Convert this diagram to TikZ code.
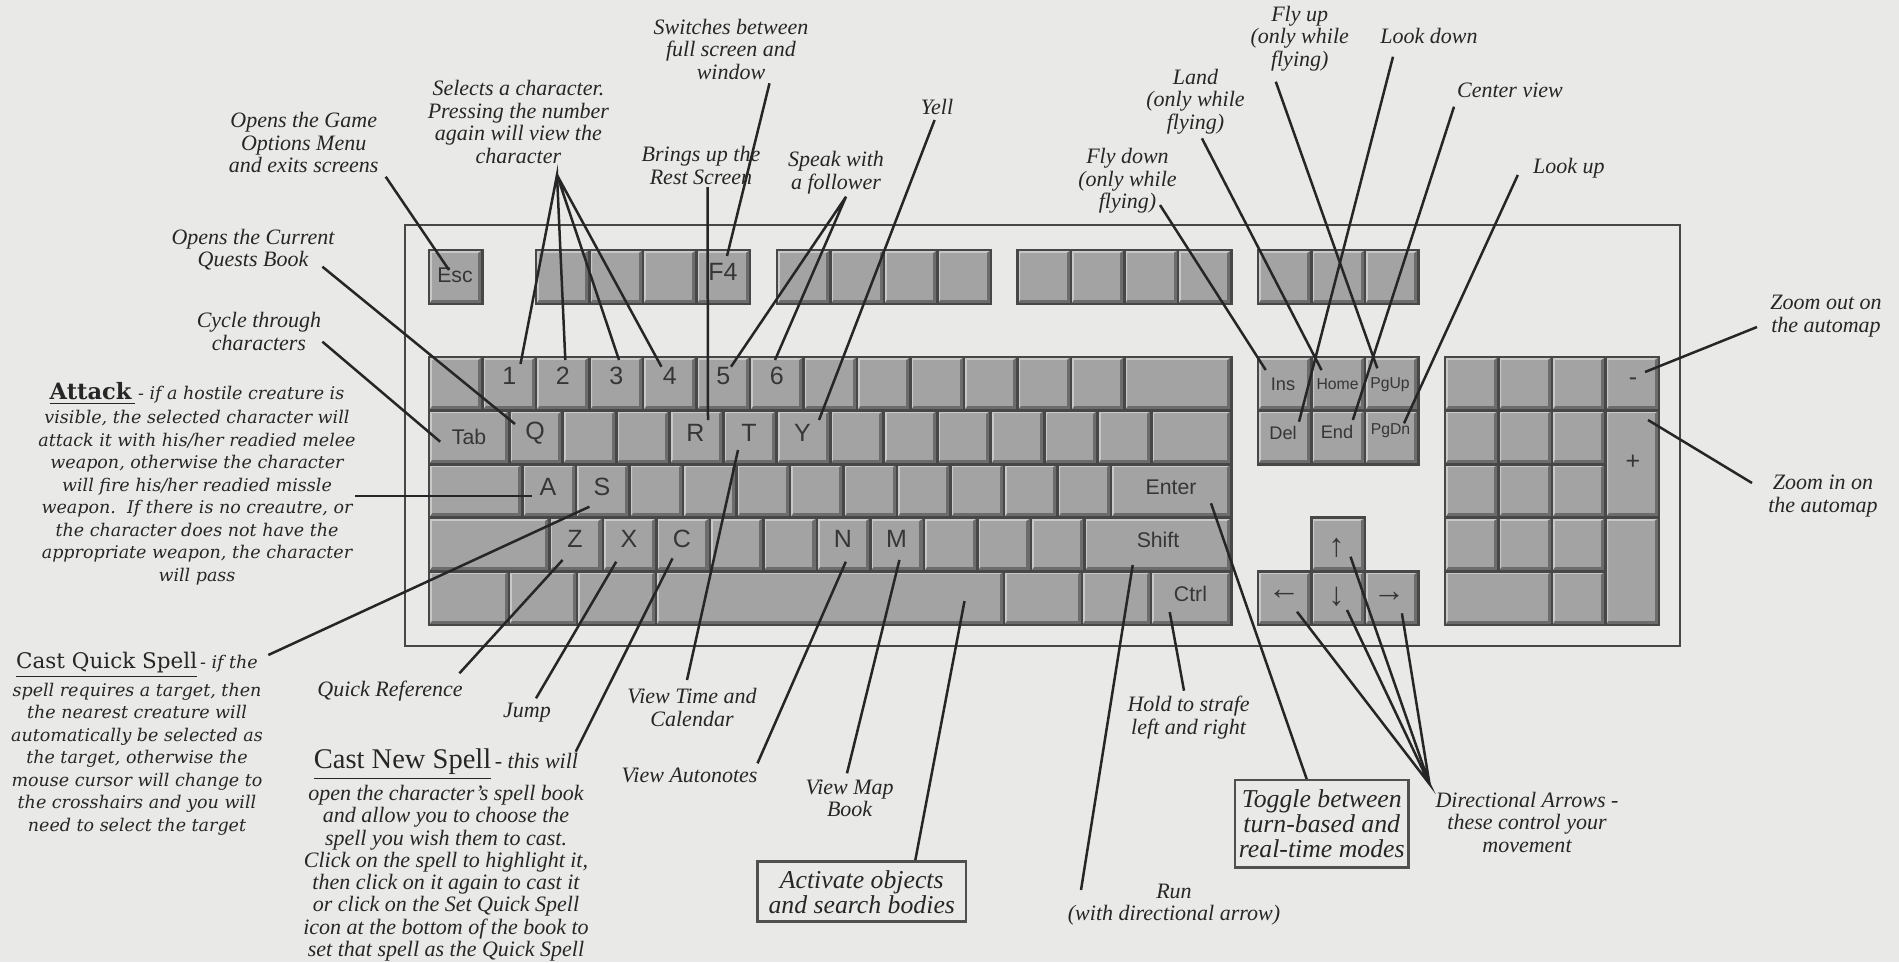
\documentclass[tikz,border=0pt]{standalone}
\usepackage{fontspec}
\setmainfont{Liberation Serif}
\newfontfamily\dvserif{DejaVu Serif}
\newfontfamily\lsans{Liberation Sans}
\definecolor{paper}{HTML}{E9E9E7}
\definecolor{kface}{HTML}{A3A3A3}
\definecolor{klight}{HTML}{C8C8C8}
\definecolor{kdark}{HTML}{6C6C6C}
\definecolor{kedge}{HTML}{474747}
\definecolor{inkc}{HTML}{262626}
\definecolor{keytxt}{HTML}{363636}
\definecolor{boxc}{HTML}{505050}
\newcommand\kbkey[4]{%
  \fill[kdark] (#1,#2) rectangle (#3,#4);
  \fill[klight] (#1,#2) -- (#3,#2) -- (#3-4.5,#2+3) -- (#1+3,#2+3) -- (#1+3,#4-4.5) -- (#1,#4) -- cycle;
  \fill[kface] (#1+3,#2+3) rectangle (#3-4.5,#4-4.5);
  \draw[kedge, line width=1.1pt] (#1,#2) rectangle (#3,#4);
}
\begin{document}
\begin{tikzpicture}[x=0.4pt,y=-0.4pt,
  lbl/.style={font=\itshape\fontsize{8.8}{9}\selectfont, align=center, inner sep=0pt, text=inkc},
  para/.style={font=\dvserif\itshape\fontsize{7}{9}\selectfont, align=center, inner sep=0pt, text=inkc},
  boxlbl/.style={font=\itshape\fontsize{10.3}{10}\selectfont, align=center, inner sep=0pt, text=inkc, draw=boxc, line width=1pt},
  kl/.style={font=\lsans\fontsize{10}{10}\selectfont, inner sep=0pt, text=keytxt},
  kls/.style={kl, font=\lsans\fontsize{8.5}{8.5}\selectfont},
  klx/.style={kl, font=\lsans\fontsize{7.3}{7.3}\selectfont},
  klxx/.style={kl, font=\lsans\fontsize{6.3}{6.3}\selectfont},
  kla/.style={kl, font=\lsans\fontsize{13}{13}\selectfont},
  ln/.style={draw=inkc, line width=1pt}
]
\useasboundingbox (0,0) rectangle (1899,962);
\fill[paper] (0,0) rectangle (1899,962);

% keyboard frame
\draw[kedge, line width=1.1pt] (405,225) rectangle (1680,646);

% function row
\kbkey{429}{250}{482.5}{304}
\foreach \i in {0,1,2,3}{\kbkey{536+53.5*\i}{250}{589.5+53.5*\i}{304}}
\foreach \i in {0,1,2,3}{\kbkey{777+53.5*\i}{250}{830.5+53.5*\i}{304}}
\foreach \i in {0,1,2,3}{\kbkey{1017.5+53.5*\i}{250}{1071+53.5*\i}{304}}
\foreach \i in {0,1,2}{\kbkey{1258+53.5*\i}{250}{1311.5+53.5*\i}{304}}

% row 1
\foreach \i in {0,...,12}{\kbkey{429+53.5*\i}{357}{482.5+53.5*\i}{410.6}}
\kbkey{1124.5}{357}{1231.5}{410.6}
% row 2
\kbkey{429}{410.6}{509.25}{464.2}
\foreach \i in {0,...,11}{\kbkey{509.25+53.5*\i}{410.6}{562.75+53.5*\i}{464.2}}
\kbkey{1151.25}{410.6}{1231.5}{464.2}
% row 3
\kbkey{429}{464.2}{522.6}{517.8}
\foreach \i in {0,...,10}{\kbkey{522.6+53.5*\i}{464.2}{576.1+53.5*\i}{517.8}}
\kbkey{1111.1}{464.2}{1231.5}{517.8}
% row 4
\kbkey{429}{517.8}{549.4}{571.4}
\foreach \i in {0,...,9}{\kbkey{549.4+53.5*\i}{517.8}{602.9+53.5*\i}{571.4}}
\kbkey{1084.4}{517.8}{1231.5}{571.4}
% row 5
\kbkey{429}{571.4}{509}{625}
\kbkey{509}{571.4}{577}{625}
\kbkey{577}{571.4}{656}{625}
\kbkey{656}{571.4}{1004}{625}
\kbkey{1004}{571.4}{1082}{625}
\kbkey{1082}{571.4}{1151}{625}
\kbkey{1151}{571.4}{1231.5}{625}

% navigation cluster
\foreach \i in {0,1,2}{\kbkey{1258+53.5*\i}{357}{1311.5+53.5*\i}{410.6}}
\foreach \i in {0,1,2}{\kbkey{1258+53.5*\i}{410.6}{1311.5+53.5*\i}{464.2}}
\kbkey{1311.5}{517.8}{1365}{571.4}
\foreach \i in {0,1,2}{\kbkey{1258+53.5*\i}{571.4}{1311.5+53.5*\i}{625}}

% numeric pad
\foreach \i in {0,1,2,3}{\kbkey{1445+53.5*\i}{357}{1498.5+53.5*\i}{410.6}}
\foreach \i in {0,1,2}{\kbkey{1445+53.5*\i}{410.6}{1498.5+53.5*\i}{464.2}}
\foreach \i in {0,1,2}{\kbkey{1445+53.5*\i}{464.2}{1498.5+53.5*\i}{517.8}}
\foreach \i in {0,1,2}{\kbkey{1445+53.5*\i}{517.8}{1498.5+53.5*\i}{571.4}}
\kbkey{1605.5}{410.6}{1659}{517.8}
\kbkey{1605.5}{517.8}{1659}{625}
\kbkey{1445}{571.4}{1552}{625}
\kbkey{1552}{571.4}{1605.5}{625}

% key labels
\node[kls] (kEsc) at (455,275) {Esc};
\node[kl] (kF4) at (723,272) {F4};
\node[kl] (k1) at (509.25,376) {1};
\node[kl] (k2) at (562.75,376) {2};
\node[kl] (k3) at (616.25,376) {3};
\node[kl] (k4) at (669.75,376) {4};
\node[kl] (k5) at (723.25,376) {5};
\node[kl] (k6) at (776.75,376) {6};
\node[kls] (kTab) at (469,437) {Tab};
\node[kl] (kQ) at (535,433) {Q};
\node[kl] (kR) at (695.5,433) {R};
\node[kl] (kT) at (749,433) {T};
\node[kl] (kY) at (802.5,433) {Y};
\node[kl] (kA) at (548,487) {A};
\node[kl] (kS) at (602,487) {S};
\node[kl] (kZ) at (575,539) {Z};
\node[kl] (kX) at (629,539) {X};
\node[kl] (kC) at (682,539) {C};
\node[kl] (kN) at (843,539) {N};
\node[kl] (kM) at (896.5,539) {M};
\node[kls] (kEnter) at (1171,487) {Enter};
\node[kls] (kShift) at (1158,540) {Shift};
\node[kls] (kCtrl) at (1190.5,594) {Ctrl};
\node[klx] (kIns) at (1283,384) {Ins};
\node[klxx] (kHome) at (1337.5,384) {Home};
\node[klxx] (kPgUp) at (1390,385) {PgUp};
\node[klx] (kDel) at (1283,433) {Del};
\node[klx] (kEnd) at (1337,432) {End};
\node[klxx] (kPgDn) at (1390.5,431) {PgDn};
\node[kl] (kMinus) at (1633,382) {-};
\node[kl] (kPlus) at (1633,462) {+};
\node[kla] (kUp) at (1336.5,548) {↑};
\node[kla] (kLeft) at (1284,595) {←};
\node[kla] (kDown) at (1336.5,597) {↓};
\node[kla] (kRight) at (1389,596.5) {→};

% connector end points
\coordinate (escA) at (385.7,176.7);   \coordinate (escB) at (449,270);
\coordinate (selA) at (557,175);
\coordinate (sel1) at (520.5,364);  \coordinate (sel2) at (565.3,360);
\coordinate (sel3) at (619,360);    \coordinate (sel4) at (661.4,366.7);
\coordinate (restA) at (707.5,187); \coordinate (restB) at (708,420);
\coordinate (swA) at (769.5,83.3);  \coordinate (swB) at (727,256);
\coordinate (spkA) at (846,196.7);
\coordinate (spk5) at (731,366.7);  \coordinate (spk6) at (775,360);
\coordinate (yellA) at (934.6,120); \coordinate (yellB) at (819,420);
\coordinate (qstA) at (322.4,266.7); \coordinate (qstB) at (515,424);
\coordinate (cycA) at (322.4,341.7); \coordinate (cycB) at (440.2,441.7);
\coordinate (attA) at (355,496);    \coordinate (attB) at (532,496);
\coordinate (cqsA) at (268.3,655);  \coordinate (cqsB) at (589.4,506.7);
\coordinate (qrA) at (459.4,673.3); \coordinate (qrB) at (562.6,560);
\coordinate (jmpA) at (536,698.3);  \coordinate (jmpB) at (616.2,561.7);
\coordinate (cnsA) at (575.7,751.7); \coordinate (cnsB) at (672.5,558.3);
\coordinate (vtA) at (687,680);     \coordinate (vtB) at (738,450);
\coordinate (anA) at (757.5,763.3); \coordinate (anB) at (845.8,561.7);
\coordinate (mapA) at (847,773.3);  \coordinate (mapB) at (899.4,560);
\coordinate (actA) at (915,861.7);  \coordinate (actB) at (964.5,601);
\coordinate (runA) at (1081,890);   \coordinate (runB) at (1132.7,565);
\coordinate (hldA) at (1184,690.7); \coordinate (hldB) at (1169.7,612);
\coordinate (tglA) at (1307,780);   \coordinate (tglB) at (1211,503.3);
\coordinate (dirA) at (1429.5,784);
\coordinate (dirL) at (1297,611.7); \coordinate (dirD) at (1347,610);
\coordinate (dirU) at (1350.5,556.7); \coordinate (dirR) at (1401.9,613.3);
\coordinate (fdA) at (1160,205);    \coordinate (fdB) at (1265.7,370);
\coordinate (lndA) at (1201.9,138.3); \coordinate (lndB) at (1321.5,370);
\coordinate (fuA) at (1275.8,81.7); \coordinate (fuB) at (1377.3,368.3);
\coordinate (ldA) at (1393,56.7);   \coordinate (ldB) at (1299,421.7);
\coordinate (cvA) at (1454,106.7);  \coordinate (cvB) at (1352.8,420);
\coordinate (luA) at (1517.8,175);  \coordinate (luB) at (1404,423.3);
\coordinate (zoA) at (1757,327);    \coordinate (zoB) at (1645,372);
\coordinate (ziA) at (1752,483);    \coordinate (ziB) at (1648,420);

% connectors
\draw[ln] (escA) -- (escB);
\draw[ln] (sel1) -- (selA) -- (sel2);
\draw[ln] (sel3) -- (selA) -- (sel4);
\draw[ln] (restA) -- (restB);
\draw[ln] (swA) -- (swB);
\draw[ln] (spk5) -- (spkA) -- (spk6);
\draw[ln] (yellA) -- (yellB);
\draw[ln] (qstA) -- (qstB);
\draw[ln] (cycA) -- (cycB);
\draw[ln] (attA) -- (attB);
\draw[ln] (cqsA) -- (cqsB);
\draw[ln] (qrA) -- (qrB);
\draw[ln] (jmpA) -- (jmpB);
\draw[ln] (cnsA) -- (cnsB);
\draw[ln] (vtA) -- (vtB);
\draw[ln] (anA) -- (anB);
\draw[ln] (mapA) -- (mapB);
\draw[ln] (actA) -- (actB);
\draw[ln] (runA) -- (runB);
\draw[ln] (hldA) -- (hldB);
\draw[ln] (tglA) -- (tglB);
\draw[ln] (dirL) -- (dirA) -- (dirD);
\draw[ln] (dirU) -- (dirA) -- (dirR);
\draw[ln] (fdA) -- (fdB);
\draw[ln] (lndA) -- (lndB);
\draw[ln] (fuA) -- (fuB);
\draw[ln] (ldA) -- (ldB);
\draw[ln] (cvA) -- (cvB);
\draw[ln] (luA) -- (luB);
\draw[ln] (zoA) -- (zoB);
\draw[ln] (ziA) -- (ziB);

% labels
\node[lbl] (lEsc) at (303.7,142.6) {Opens the Game\\Options Menu\\and exits screens};
\node[lbl] (lSel) at (518.4,122) {Selects a character.\\Pressing the number\\again will view the\\character};
\node[lbl] (lSw) at (731,49.1) {Switches between\\full screen and\\window};
\node[lbl] (lRest) at (701,165.3) {Brings up the\\Rest Screen};
\node[lbl] (lSpk) at (836,172.5) {Speak with\\a follower};
\node[lbl] (lYell) at (937,106.7) {Yell};
\node[lbl] (lQst) at (253,249.5) {Opens the Current\\Quests Book};
\node[lbl] (lCyc) at (259,331.3) {Cycle through\\characters};
\node[lbl] (lFd) at (1127.5,181.1) {Fly down\\(only while\\flying)};
\node[lbl] (lLnd) at (1195.5,101.6) {Land\\(only while\\flying)};
\node[lbl] (lFu) at (1299.7,38.3) {Fly up\\(only while\\flying)};
\node[lbl] (lLd) at (1429,36) {Look down};
\node[lbl] (lCv) at (1510,90) {Center view};
\node[lbl] (lLu) at (1568.8,168.3) {Look up};
\node[lbl] (lZo) at (1826,316) {Zoom out on\\the automap};
\node[lbl] (lZi) at (1823,496) {Zoom in on\\the automap};
\node[lbl] (lQr) at (390,690.7) {Quick Reference};
\node[lbl] (lJmp) at (527,712.7) {Jump};
\node[lbl] (lVt) at (692,707.5) {View Time and\\Calendar};
\node[lbl] (lAn) at (689.6,775) {View Autonotes};
\node[lbl] (lMap) at (849.6,798.3) {View Map\\Book};
\node[lbl] (lHld) at (1188.6,717.5) {Hold to strafe\\left and right};
\node[lbl] (lRun) at (1174,904.5) {Run\\(with directional arrow)};
\node[lbl] (lDir) at (1527,822) {Directional Arrows -\\these control your\\movement};
\node[boxlbl, minimum width=83.4pt, minimum height=24pt] (lAct) at (861.75,891.7) {Activate objects\\and search bodies};
\node[boxlbl, minimum width=69.4pt, minimum height=34.9pt] (lTgl) at (1321.75,823.65) {Toggle between\\turn-based and\\real-time modes};

\node[para] (lAtt) at (197,483.7) {{\bfseries\upshape\fontsize{9}{9}\selectfont\underline{Attack\,}}\,- if a hostile creature is\\[0.6pt]
visible, the selected character will\\
attack it with his/her readied melee\\
weapon, otherwise the character\\
will fire his/her readied missle\\
weapon.\ \ If there is no creautre, or\\
the character does not have the\\
appropriate weapon, the character\\
will pass};

\node[para] (lCqs) at (137,743.7) {{\upshape\fontsize{8.6}{9}\selectfont\underline{Cast Quick Spell}}\,- if the\\[1pt]
spell requires a target, then\\
the nearest creature will\\
automatically be selected as\\
the target, otherwise the\\
mouse cursor will change to\\
the crosshairs and you will\\
need to select the target};

\node[lbl, font=\itshape\fontsize{8.8}{8.9}\selectfont] (lCns) at (446,855) {{\upshape\fontsize{11.4}{8.9}\selectfont\underline{Cast New Spell}}\,- this will\\[1.2pt]
open the character's spell book\\
and allow you to choose the\\
spell you wish them to cast.\\
Click on the spell to highlight it,\\
then click on it again to cast it\\
or click on the Set Quick Spell\\
icon at the bottom of the book to\\
set that spell as the Quick Spell};
\end{tikzpicture}
\end{document}
